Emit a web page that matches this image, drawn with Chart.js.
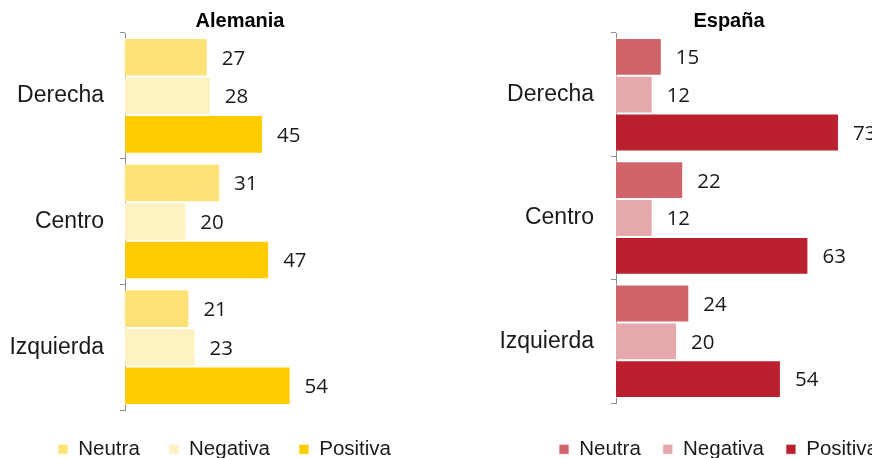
<!DOCTYPE html>
<html>
<head>
<meta charset="utf-8">
<script src="https://cdn.jsdelivr.net/npm/chart.js@4.4.1/dist/chart.umd.min.js"></script>
<style>
  html, body { margin: 0; padding: 0; background: #fff; overflow: hidden; width: 872px; height: 458px; }
  canvas { position: absolute; top: 0; }
  #alemania { left: 0px; }
  #espana { left: 490px; }
</style>
</head>
<body>
<canvas id="alemania" width="449" height="458"></canvas>
<canvas id="espana" width="457" height="458"></canvas>
<script>
var categorias = ['Derecha', 'Centro', 'Izquierda'];
var series = ['Neutra', 'Negativa', 'Positiva'];

var alemaniaNeutra = [27, 31, 21];
var alemaniaNegativa = [28, 20, 23];
var alemaniaPositiva = [45, 47, 54];

var espanaNeutra = [15, 22, 24];
var espanaNegativa = [12, 12, 20];
var espanaPositiva = [73, 63, 54];

var coloresAlemania = ['#FFE276', '#FFF2C2', '#FFCC00'];
var coloresEspana = ['#D0646B', '#E5A8AD', '#BA202D'];

// numbers written just right of each bar
var etiquetas = {
    id: 'etiquetas',
    afterDatasetsDraw: function (chart) {
        var ctx = chart.ctx;
        ctx.save();
        ctx.font = '20.5px "Open Sans"';
        ctx.fillStyle = '#1a1a1a';
        ctx.textBaseline = 'middle';
        ctx.textAlign = 'left';
        chart.data.datasets.forEach(function (ds, i) {
            chart.getDatasetMeta(i).data.forEach(function (bar, j) {
                ctx.fillText(ds.data[j], bar.x + 14, bar.y + 1.5);
            });
        });
        ctx.restore();
    }
};

function grafico(id, titulo, valores, colores, o) {
    var datasets = series.map(function (s, i) {
        return {
            label: s,
            data: valores[i],
            backgroundColor: colores[i],
            borderColor: 'rgba(255,255,255,0.7)',
            borderWidth: 1,
            barPercentage: 1,
            categoryPercentage: 0.92
        };
    });
    return new Chart(document.getElementById(id), {
        type: 'bar',
        data: { labels: categorias, datasets: datasets },
        plugins: [etiquetas],
        options: {
            indexAxis: 'y',
            responsive: false,
            animation: false,
            devicePixelRatio: 1,
            layout: { padding: 0 },
            scales: {
                x: { display: false, min: 0, max: o.xMax },
                y: {
                    grid: { drawOnChartArea: false, drawTicks: true, tickLength: 5, color: '#8c8c8c' },
                    border: { color: '#8c8c8c' },
                    ticks: { color: '#1a1a1a', padding: o.labelPad, font: { family: '"Liberation Sans", Arial', size: 23 } },
                    afterFit: function (s) { s.width = o.yWidth; }
                },
                relleno: {
                    type: 'linear',
                    position: 'right',
                    grid: { display: false },
                    border: { display: false },
                    ticks: { display: false },
                    afterFit: function (s) { s.width = o.rightWidth; }
                }
            },
            plugins: {
                tooltip: { enabled: false },
                title: {
                    display: true,
                    text: titulo,
                    fullSize: false,
                    color: '#000',
                    font: { family: '"Liberation Sans", Arial', size: 20, weight: 'bold' },
                    padding: { top: 9, bottom: 0 }
                },
                legend: {
                    position: 'bottom',
                    maxHeight: o.legendMax,
                    title: { display: o.legendTitle > 0, text: '', font: { size: 10 }, padding: (o.legendTitle - 12) / 2 },
                    labels: {
                        boxWidth: 10,
                        boxHeight: 10,
                        padding: o.legendPad,
                        color: '#1a1a1a',
                        font: { family: '"Liberation Sans", Arial', size: 20.5 }
                    }
                }
            }
        }
    });
}

grafico('alemania', 'Alemania', [alemaniaNeutra, alemaniaNegativa, alemaniaPositiva], coloresAlemania,
    { xMax: 75, yWidth: 125, labelPad: 16, rightWidth: 94, legendPad: 29, legendTitle: 0, legendMax: 48 });

grafico('espana', 'España', [espanaNeutra, espanaNegativa, espanaPositiva], coloresEspana,
    { xMax: 74, yWidth: 126, labelPad: 17, rightWidth: 105, legendPad: 22, legendTitle: 14, legendMax: 55 });
</script>
</body>
</html>
